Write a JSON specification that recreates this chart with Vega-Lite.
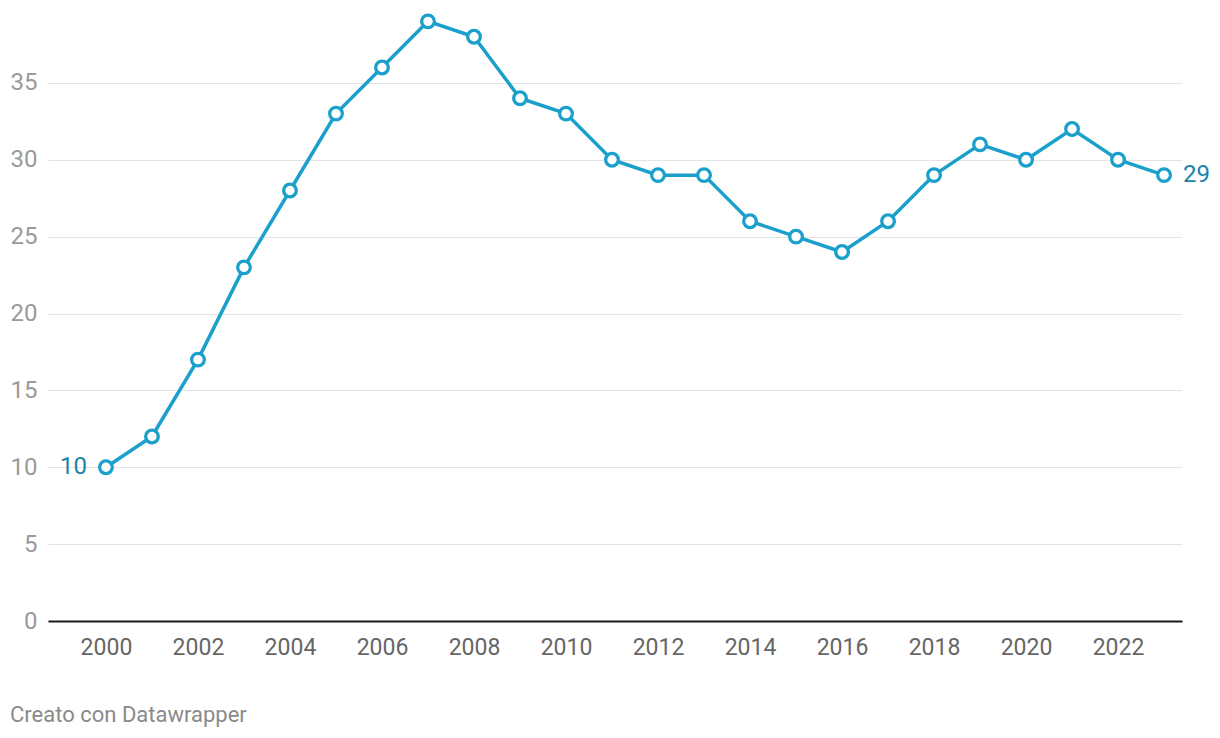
{
  "$schema": "https://vega.github.io/schema/vega-lite/v6.json",
  "width": 1134,
  "height": 615,
  "autosize": {"type": "none"},
  "padding": {"left": 48, "top": 6, "right": 38, "bottom": 117},
  "background": "white",
  "config": {
    "view": {"stroke": null},
    "font": "Roboto"
  },
  "title": {
    "text": "Creato con Datawrapper",
    "orient": "bottom",
    "anchor": "start",
    "frame": "bounds",
    "font": "Roboto",
    "fontSize": 22,
    "fontWeight": "normal",
    "color": "#8a8a8a",
    "offset": 46,
    "dx": 0
  },
  "data": {
    "values": [
      {"year": 2000, "value": 10},
      {"year": 2001, "value": 12},
      {"year": 2002, "value": 17},
      {"year": 2003, "value": 23},
      {"year": 2004, "value": 28},
      {"year": 2005, "value": 33},
      {"year": 2006, "value": 36},
      {"year": 2007, "value": 39},
      {"year": 2008, "value": 38},
      {"year": 2009, "value": 34},
      {"year": 2010, "value": 33},
      {"year": 2011, "value": 30},
      {"year": 2012, "value": 29},
      {"year": 2013, "value": 29},
      {"year": 2014, "value": 26},
      {"year": 2015, "value": 25},
      {"year": 2016, "value": 24},
      {"year": 2017, "value": 26},
      {"year": 2018, "value": 29},
      {"year": 2019, "value": 31},
      {"year": 2020, "value": 30},
      {"year": 2021, "value": 32},
      {"year": 2022, "value": 30},
      {"year": 2023, "value": 29}
    ]
  },
  "encoding": {
    "x": {
      "field": "year",
      "type": "quantitative",
      "scale": {"domain": [1998.74, 2023.39], "nice": false, "zero": false},
      "axis": {
        "title": null,
        "values": [2000, 2002, 2004, 2006, 2008, 2010, 2012, 2014, 2016, 2018, 2020, 2022],
        "format": "d",
        "grid": false,
        "ticks": false,
        "domain": true,
        "domainColor": "#1a1a1a",
        "domainWidth": 2,
        "labelFont": "Roboto",
        "labelFontSize": 23,
        "labelColor": "#666666",
        "labelPadding": 15
      }
    },
    "y": {
      "field": "value",
      "type": "quantitative",
      "scale": {"domain": [0, 40], "nice": false},
      "axis": {
        "title": null,
        "values": [0, 5, 10, 15, 20, 25, 30, 35],
        "grid": true,
        "gridColor": "#e3e3e3",
        "gridWidth": 1,
        "ticks": false,
        "domain": false,
        "labelFont": "Roboto",
        "labelFontSize": 24,
        "labelColor": "#9a9a9a",
        "labelPadding": 11
      }
    }
  },
  "layer": [
    {
      "mark": {"type": "line", "color": "#1ba0cc", "strokeWidth": 3.5}
    },
    {
      "mark": {"type": "point", "filled": true, "fill": "white", "stroke": "#1ba0cc", "strokeWidth": 3.3, "size": 160, "opacity": 1}
    },
    {
      "transform": [{"filter": "datum.year === 2000"}],
      "mark": {"type": "text", "align": "right", "baseline": "middle", "dx": -19, "fontSize": 24, "font": "Roboto", "color": "#1785a8"},
      "encoding": {"text": {"field": "value", "type": "quantitative"}}
    },
    {
      "transform": [{"filter": "datum.year === 2023"}],
      "mark": {"type": "text", "align": "left", "baseline": "middle", "dx": 19, "fontSize": 24, "font": "Roboto", "color": "#1785a8"},
      "encoding": {"text": {"field": "value", "type": "quantitative"}}
    }
  ]
}
